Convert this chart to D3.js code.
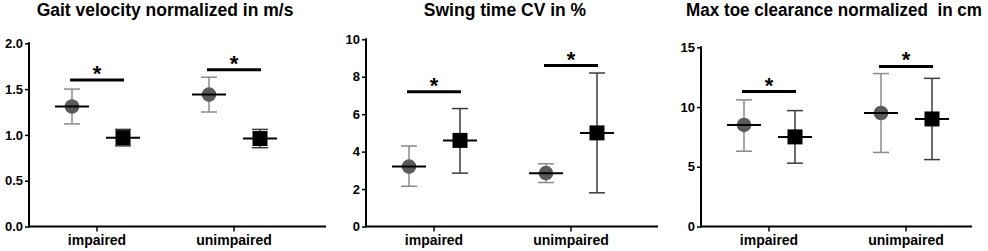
<!DOCTYPE html>
<html lang="en">
<head>
<meta charset="UTF-8">
<script src="https://d3js.org/d3.v7.min.js"></script>
<style>
  body { margin: 0; background: #fff; }
  svg { display: block; font-family: Arial, "Liberation Sans", sans-serif; }
  .title { font-weight: bold; font-size: 17.5px; white-space: pre; }
  .tick text { font-weight: bold; font-size: 13px; fill: #000; }
  .cat { font-weight: bold; font-size: 14px; }
</style>
</head>
<body>
<svg id="chart"></svg>
<script>

const W = 988, H = 251

const categories = ['impaired', 'unimpaired']
const titles = ['Gait velocity normalized in m/s', 'Swing time CV in %', 'Max toe clearance normalized  in cm']
const yMax = [2, 10, 15]
const yTicks = [[0, 0.5, 1, 1.5, 2], [0, 2, 4, 6, 8, 10], [0, 5, 10, 15]]
const tickFmt = ['.1f', 'd', 'd']

// circle group (mean, low, high) per category
const circleMean = [[1.31, 1.44], [3.2, 2.85], [8.5, 9.5]]
const circleLow  = [[1.12, 1.25], [2.15, 2.35], [6.3, 6.2]]
const circleHigh = [[1.50, 1.63], [4.3, 3.35], [10.6, 12.8]]
// square group
const squareMean = [[0.97, 0.96], [4.6, 5.0], [7.5, 9.0]]
const squareLow  = [[0.88, 0.86], [2.85, 1.8], [5.3, 5.6]]
const squareHigh = [[1.06, 1.06], [6.3, 8.2], [9.7, 12.4]]
// significance bar heights
const sigLevel = [[1.60, 1.71], [7.2, 8.6], [11.3, 13.4]]

// layout for each panel: y-axis x position, top of y range, right end of x axis
const panels = [
  {left: 29, top: 43.3, right: 326, titleX: 165},
  {left: 366, top: 39.3, right: 658, titleX: 505},
  {left: 701, top: 47.3, right: 972, titleX: 834}
]
const bottom = 226.5

const svg = d3.select('#chart')
    .attr('width', W)
    .attr('height', H)

panels.forEach((p, i) => {
  let g = svg.append('g')

  let y = d3.scaleLinear()
      .domain([0, yMax[i]])
      .range([bottom, p.top])

  let x = d3.scalePoint()
      .domain(categories)
      .range([p.left + 68, p.left + 205])

  let grp = d3.scalePoint()
      .domain(['circle', 'square'])
      .range([-25, 26])

  // title
  let t = g.append('text')
      .attr('class', 'title')
      .attr('x', p.titleX)
      .attr('y', 16)
      .attr('text-anchor', 'middle')
      .text(titles[i])
  if (i === 2) t.attr('textLength', 296).attr('lengthAdjust', 'spacingAndGlyphs')

  // y axis
  let yAxis = g.append('g')
      .attr('transform', `translate(${p.left},0)`)
      .call(d3.axisLeft(y).tickValues(yTicks[i]).tickSize(4).tickPadding(2).tickFormat(d3.format(tickFmt[i])))
  yAxis.select('.domain').remove()
  yAxis.selectAll('.tick line').attr('stroke', '#000').attr('stroke-width', 1.5)
  g.append('line')
      .attr('x1', p.left).attr('x2', p.left)
      .attr('y1', p.top - 1).attr('y2', bottom + 1)
      .attr('stroke', '#000').attr('stroke-width', 2)

  // x axis
  g.append('line')
      .attr('x1', p.left).attr('x2', p.right)
      .attr('y1', bottom).attr('y2', bottom)
      .attr('stroke', '#000').attr('stroke-width', 2)
  categories.forEach(c => {
    g.append('line')
        .attr('x1', x(c)).attr('x2', x(c))
        .attr('y1', bottom).attr('y2', bottom + 5)
        .attr('stroke', '#000').attr('stroke-width', 1.5)
    g.append('text')
        .attr('class', 'cat')
        .attr('x', x(c))
        .attr('y', 245)
        .attr('text-anchor', 'middle')
        .text(c)
  })

  categories.forEach((c, j) => {
    let groups = [
      {key: 'circle', mean: circleMean[i][j], lo: circleLow[i][j], hi: circleHigh[i][j], err: '#8a8a8a', fill: '#5a5a5a'},
      {key: 'square', mean: squareMean[i][j], lo: squareLow[i][j], hi: squareHigh[i][j], err: '#3c3c3c', fill: '#000'}
    ]
    groups.forEach(d => {
      let cx = x(c) + grp(d.key)
      // error bar
      g.append('line')
          .attr('x1', cx).attr('x2', cx)
          .attr('y1', y(d.lo)).attr('y2', y(d.hi))
          .attr('stroke', d.err).attr('stroke-width', 1.5)
      ;[d.lo, d.hi].forEach(v => {
        g.append('line')
            .attr('x1', cx - 8).attr('x2', cx + 8)
            .attr('y1', y(v)).attr('y2', y(v))
            .attr('stroke', d.err).attr('stroke-width', 1.5)
      })
      // marker
      if (d.key === 'circle') {
        g.append('circle')
            .attr('cx', cx).attr('cy', y(d.mean))
            .attr('r', 7.3)
            .attr('fill', d.fill)
      } else {
        g.append('rect')
            .attr('x', cx - 7.5).attr('y', y(d.mean) - 7.5)
            .attr('width', 15).attr('height', 15)
            .attr('fill', d.fill)
      }
      // mean line
      g.append('line')
          .attr('x1', cx - 17).attr('x2', cx + 17)
          .attr('y1', y(d.mean)).attr('y2', y(d.mean))
          .attr('stroke', '#000').attr('stroke-width', 2)
    })

    // significance bar
    let x1 = x(c) + grp('circle') - 2, x2 = x(c) + grp('square') + 1
    g.append('line')
        .attr('x1', x1).attr('x2', x2)
        .attr('y1', y(sigLevel[i][j])).attr('y2', y(sigLevel[i][j]))
        .attr('stroke', '#000').attr('stroke-width', 3)
    g.append('text')
        .attr('x', (x1 + x2) / 2)
        .attr('y', y(sigLevel[i][j]) + 1)
        .attr('text-anchor', 'middle')
        .style('font-weight', 'bold')
        .style('font-size', '22px')
        .text('*')
  })
})

</script>
</body>
</html>
